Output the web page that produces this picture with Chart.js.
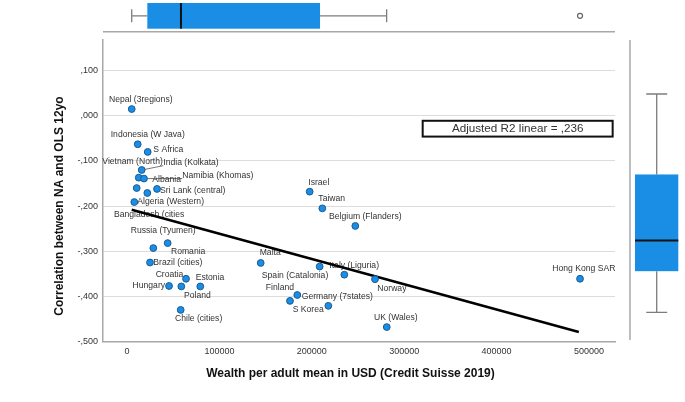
<!DOCTYPE html>
<html>
<head>
<meta charset="utf-8">
<script src="https://cdn.jsdelivr.net/npm/chart.js@4/dist/chart.umd.min.js"></script>
<style>
html,body{margin:0;padding:0;background:#fff;}
#wrap{width:685px;height:402px;}
</style>
</head>
<body>
<div id="wrap"><canvas id="c" width="685" height="402"></canvas></div>
<script>
// ---- data ----
const countries = ['Nepal (3regions)','Indonesia (W Java)','S Africa','India (Kolkata)','Vietnam (North)','Namibia (Khomas)','Bangladesh (cities','Albania','Sri Lank (central)','Algeria (Western)','Russia (Tyumen)','Romania','Brazil (cities)','Croatia','Hungary','Poland','Estonia','Chile (cities)','Malta','Israel','Taiwan','Belgium (Flanders)','Spain (Catalonia)','Italy (Liguria)','Norway','Finland','S Korea','Germany (7states)','UK (Wales)','Hong Kong SAR'];
const wealth = [5100,11600,22400,15900,12700,18400,10500,22000,32500,7900,28500,44000,24900,63900,45500,58800,79300,58100,144700,197700,211400,247100,208500,235200,268400,184300,176400,217900,281100,490300];
const corr = [0.015,-0.063,-0.080,-0.120,-0.137,-0.139,-0.160,-0.171,-0.162,-0.191,-0.293,-0.282,-0.325,-0.361,-0.377,-0.378,-0.378,-0.430,-0.326,-0.168,-0.205,-0.244,-0.334,-0.352,-0.362,-0.397,-0.410,-0.421,-0.468,-0.361];
const fitX = [5100, 489000];
const fitY = [-0.208, -0.479];
const wealthBox = [5100, 22000, 58400, 208900, 281000]; // min, q1, median, q3, max
const wealthOutliers = [490300];
const corrBox = [-0.468, -0.377, -0.309, -0.163, 0.015];  // min, q1, median, q3, max
const xTickValues = [0, 100000, 200000, 300000, 400000, 500000];
const yTickValues = [-0.5, -0.4, -0.3, -0.2, -0.1, 0, 0.1];
const r2Text = 'Adjusted R2 linear = ,236';
const xTitle = 'Wealth per adult mean in USD (Credit Suisse 2019)';
const yTitle = 'Correlation between NA and OLS 12yo';

// ---- styles ----
const FONT = '"Liberation Sans", Arial, sans-serif';
const BLUE = '#1a8ee4';
const labelPlace = [
  [-22.7,-9.3,'left'],[-27,-10,'left'],[5.6,-2.6,'left'],[21.6,-7.3,'left',1],[-36.4,-15.7,'left'],
  [38.3,-3,'left',1],[-22.7,26.4,'left'],[5,-13.7,'left'],[3,1.3,'left'],[3,0,'left'],
  [-22.6,-17,'left'],[3.3,9,'left'],[3.3,0.3,'left'],[-2.7,-3.7,'right'],[-4,0,'right'],
  [2.7,9,'left'],[-4.6,-8.7,'left'],[-5.7,8.7,'left'],[-1,-10,'left'],[-1.4,-9.3,'left'],
  [-4,-9.4,'left'],[-26.3,-9.3,'left'],[8.6,8.6,'right'],[-15,-9.3,'left'],[2.3,9,'left'],
  [-3.3,-7.7,'right'],[2.7,8.3,'left'],[-26.6,-9,'left'],[-12.7,-9.3,'left'],[-27.7,-9.7,'left']
];

function fmtCorr(v){
  const n = Math.round(v*1000);
  if (n === 0) return ',000';
  return (n<0?'-':'') + ',' + String(Math.abs(n)).padStart(3,'0');
}

const points = wealth.map((w,i)=>({x:w, y:corr[i]}));
const fitPts = fitX.map((x,i)=>({x:x, y:fitY[i]}));

const labelsPlugin = {
  id: 'pointLabels',
  beforeDatasetsDraw(chart){
    const ctx = chart.ctx, xs = chart.scales.x, ys = chart.scales.y;
    ctx.save();
    ctx.font = '8.6px ' + FONT;
    ctx.fillStyle = '#333';
    ctx.textBaseline = 'middle';
    countries.forEach((name,i)=>{
      const px = xs.getPixelForValue(wealth[i]), py = ys.getPixelForValue(corr[i]);
      const p = labelPlace[i];
      if (p[3]) {
        ctx.strokeStyle = '#777'; ctx.lineWidth = 1;
        ctx.beginPath(); ctx.moveTo(px,py); ctx.lineTo(px+p[0], py+p[1]+3); ctx.stroke();
      }
      ctx.textAlign = p[2];
      ctx.fillText(name, px+p[0], py+p[1]);
    });
    ctx.restore();
  }
};

const extrasPlugin = {
  id: 'extras',
  afterDraw(chart){
    const ctx = chart.ctx, xs = chart.scales.x, ys = chart.scales.y, yb = chart.scales.yBox;
    const ca = chart.chartArea;
    ctx.save();
    // R2 box
    const bx1 = xs.getPixelForValue(320000), bx2 = xs.getPixelForValue(525600);
    const by1 = ys.getPixelForValue(-0.011), by2 = ys.getPixelForValue(-0.046);
    ctx.fillStyle = '#fff'; ctx.fillRect(bx1,by1,bx2-bx1,by2-by1);
    ctx.strokeStyle = '#111'; ctx.lineWidth = 2; ctx.strokeRect(bx1,by1,bx2-bx1,by2-by1);
    ctx.fillStyle = '#333'; ctx.font = '11.7px ' + FONT; ctx.textAlign = 'center'; ctx.textBaseline = 'middle';
    ctx.fillText(r2Text, (bx1+bx2)/2, (by1+by2)/2 + 0.5);

    // axis titles
    ctx.fillStyle = '#111'; ctx.font = 'bold 12px ' + FONT;
    ctx.fillText(xTitle, 350.5, 373.5);
    ctx.save(); ctx.translate(60, 206); ctx.rotate(-Math.PI/2); ctx.fillText(yTitle, 0, 0); ctx.restore();

    // top boxplot (shares x scale)
    const tTop = 3, tBot = 28.7, tMid = 15.8, tBase = 31.7;
    ctx.strokeStyle = '#a8a8a8'; ctx.lineWidth = 1.5;
    ctx.beginPath(); ctx.moveTo(ca.left, tBase); ctx.lineTo(ca.right, tBase); ctx.stroke();
    const [w0,w1,w2,w3,w4] = wealthBox.map(v=>xs.getPixelForValue(v));
    ctx.strokeStyle = '#7d7d7d'; ctx.lineWidth = 1.3;
    ctx.beginPath();
    ctx.moveTo(w0,tMid); ctx.lineTo(w1,tMid); ctx.moveTo(w3,tMid); ctx.lineTo(w4,tMid);
    ctx.moveTo(w0,tMid-6.5); ctx.lineTo(w0,tMid+6.5); ctx.moveTo(w4,tMid-6.5); ctx.lineTo(w4,tMid+6.5);
    ctx.stroke();
    ctx.fillStyle = BLUE; ctx.fillRect(w1,tTop,w3-w1,tBot-tTop);
    ctx.strokeStyle = '#111'; ctx.lineWidth = 2;
    ctx.beginPath(); ctx.moveTo(w2,tTop); ctx.lineTo(w2,tBot); ctx.stroke();
    wealthOutliers.forEach(v=>{
      const ox = xs.getPixelForValue(v);
      ctx.fillStyle = '#fff'; ctx.strokeStyle = '#666'; ctx.lineWidth = 1.2;
      ctx.beginPath(); ctx.arc(ox, tMid, 2.5, 0, Math.PI*2); ctx.fill(); ctx.stroke();
    });

    // right boxplot (own hidden scale)
    const rAxis = 630, rL = 635, rR = 678.3, rC = 656.7;
    ctx.strokeStyle = '#a8a8a8'; ctx.lineWidth = 1.5;
    ctx.beginPath(); ctx.moveTo(rAxis, ca.top); ctx.lineTo(rAxis, ca.bottom - 1.5); ctx.stroke();
    const [c0,c1,c2,c3,c4] = corrBox.map(v=>yb.getPixelForValue(v));
    ctx.strokeStyle = '#7d7d7d'; ctx.lineWidth = 1.3;
    ctx.beginPath();
    ctx.moveTo(rC,c4); ctx.lineTo(rC,c3); ctx.moveTo(rC,c1); ctx.lineTo(rC,c0);
    ctx.moveTo(rC-10.5,c4); ctx.lineTo(rC+10.5,c4); ctx.moveTo(rC-10.5,c0); ctx.lineTo(rC+10.5,c0);
    ctx.stroke();
    ctx.fillStyle = BLUE; ctx.fillRect(rL, c3, rR-rL, c1-c3);
    ctx.strokeStyle = '#111'; ctx.lineWidth = 2;
    ctx.beginPath(); ctx.moveTo(rL,c2); ctx.lineTo(rR,c2); ctx.stroke();
    ctx.restore();
  }
};

new Chart(document.getElementById('c'), {
  type: 'scatter',
  data: {
    datasets: [
      {
        type: 'line', data: fitPts, borderColor: '#000', borderWidth: 2.5,
        pointRadius: 0, fill: false, order: 2
      },
      {
        data: points, backgroundColor: BLUE, borderColor: '#1c5a94', borderWidth: 1,
        pointRadius: 3.4, order: 1
      }
    ]
  },
  options: {
    responsive: false, animation: false, devicePixelRatio: 1,
    layout: { padding: { top: 40, right: 70, left: 0, bottom: 0 } },
    plugins: { legend: { display: false }, tooltip: { enabled: false } },
    scales: {
      x: {
        type: 'linear', position: 'bottom', min: -25974, max: 528139,
        afterFit(s){ s.height = 60.5; },
        afterBuildTicks(s){ s.ticks = xTickValues.map(v=>({value:v})); },
        grid: { display: false, drawTicks: false },
        border: { display: true, color: '#a8a8a8', width: 1.5 },
        ticks: {
          maxRotation: 0, autoSkip: false,
          padding: 5, color: '#333', font: { family: FONT, size: 9 },
          callback: v => String(v)
        }
      },
      y: {
        type: 'linear', position: 'left', min: -0.5, max: 0.168,
        afterFit(s){ s.width = 103; },
        afterBuildTicks(s){ s.ticks = yTickValues.map(v=>({value:v})); },
        grid: { color: '#dcdcdc', lineWidth: 1, drawTicks: false },
        border: { display: true, color: '#a8a8a8', width: 1.5 },
        ticks: {
          autoSkip: false, padding: 5, color: '#333',
          font: { family: FONT, size: 9 }, callback: v => fmtCorr(v)
        }
      },
      yBox: {
        type: 'linear', display: false, min: -0.5326, max: 0.1345
      }
    }
  },
  plugins: [labelsPlugin, extrasPlugin]
});
</script>
</body>
</html>
